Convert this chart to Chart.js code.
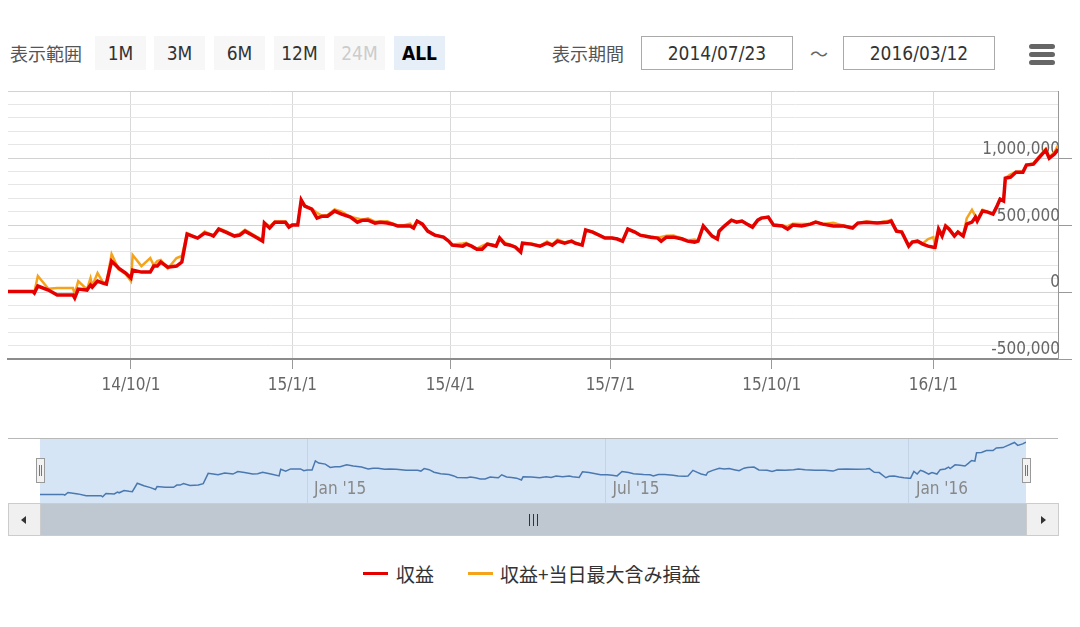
<!DOCTYPE html>
<html>
<head>
<meta charset="utf-8">
<script src="https://cdn.jsdelivr.net/npm/chart.js@4.4.0/dist/chart.umd.min.js"></script>
<style>
  body { margin: 0; background: #fff; width: 1080px; height: 627px; position: relative; overflow: hidden;
         font-family: 'DejaVu Sans', 'Noto Sans CJK JP', sans-serif; font-stretch: condensed; }
  .abs { position: absolute; }
  .jp { font-family: 'Noto Sans CJK JP', sans-serif; font-stretch: normal; }
  .lbl { top: 36px; height: 34px; line-height: 34px; font-size: 18px; color: #555; }
  .btn { top: 36px; width: 51px; height: 34px; line-height: 34px; text-align: center; background: #f7f7f7;
         font-size: 19px; color: #333; }
  .btn.off { color: #ccc; }
  .btn.on { background: #e6eef8; color: #000; font-weight: bold; }
  .box { top: 36px; width: 150px; height: 32px; line-height: 32px; border: 1px solid #aaa; text-align: center;
         font-size: 19px; color: #333; }
  .bar { left: 1029px; width: 26px; height: 5px; border-radius: 3px; background: #666; }
  .handle { top: 458px; width: 7px; height: 23px; background: #f2f2f2; border: 1px solid #999; }
  .handle i { position: absolute; top: 6px; width: 1px; height: 11px; background: #777; }
  .sbtn { top: 503px; width: 31px; height: 31px; background: #f0f0f0; border: 1px solid #ccc; }
  .leg-line { top: 572px; width: 25px; height: 3px; }
  .leg-text { top: 561px; font-size: 19px; line-height: 26px; color: #333; }
</style>
</head>
<body>

<div class="abs lbl jp" style="left:10px">表示範囲</div>
<div class="abs btn" style="left:95px">1M</div>
<div class="abs btn" style="left:154px">3M</div>
<div class="abs btn" style="left:214px">6M</div>
<div class="abs btn" style="left:274px">12M</div>
<div class="abs btn off" style="left:334px">24M</div>
<div class="abs btn on" style="left:394px">ALL</div>

<div class="abs lbl jp" style="left:552px">表示期間</div>
<div class="abs box" style="left:641px" id="fromBox"></div>
<div class="abs lbl jp" style="left:810px;color:#666">～</div>
<div class="abs box" style="left:843px" id="toBox"></div>
<div class="abs bar" style="top:44px"></div>
<div class="abs bar" style="top:52px"></div>
<div class="abs bar" style="top:60px"></div>

<canvas id="mainChart" class="abs" style="left:0;top:79px" width="1080" height="321"></canvas>

<div class="abs" style="left:8px;top:438px;width:1050px;height:1px;background:#b8b8b8"></div>
<canvas id="navChart" class="abs" style="left:0;top:439px" width="1080" height="64"></canvas>
<div class="abs handle" style="left:36px"><i style="left:2px"></i><i style="left:4px"></i></div>
<div class="abs handle" style="left:1022px"><i style="left:2px"></i><i style="left:4px"></i></div>

<div class="abs" style="left:8px;top:503px;width:1049px;height:31px;background:#bfc8d1;border:1px solid #ccc"></div>
<div class="abs sbtn" style="left:8px">
  <div class="abs" style="left:12px;top:12px;width:0;height:0;border-top:4px solid transparent;border-bottom:4px solid transparent;border-right:5px solid #333"></div>
</div>
<div class="abs sbtn" style="left:1026px">
  <div class="abs" style="left:14px;top:12px;width:0;height:0;border-top:4px solid transparent;border-bottom:4px solid transparent;border-left:5px solid #333"></div>
</div>
<div class="abs" style="left:529px;top:514px;width:1px;height:12px;background:#333"></div>
<div class="abs" style="left:533px;top:514px;width:1px;height:12px;background:#333"></div>
<div class="abs" style="left:537px;top:514px;width:1px;height:12px;background:#333"></div>

<div id="legend"></div>

<script>
/* データ ------------------------------------------------------------------- */
const startDate = '2014-07-23';
const endDate = '2016-03-12';

const seriesNames = ['収益', '収益+当日最大含み損益'];
const seriesColors = ['#e50000', '#f5a31a'];

// 開始日からの経過日数
const dayIndex = [
  0, 14, 15, 17, 23, 28, 37, 38, 40, 45,
  47, 48, 51, 54, 56, 59, 63, 67, 70, 71,
  76, 81, 83, 85, 87, 91, 96, 99, 102, 105,
  108, 112, 116, 117, 120, 124, 129, 132, 135, 140,
  145, 146, 149, 152, 158, 160, 162, 165, 167, 169,
  173, 176, 179, 182, 186, 190, 195, 199, 202, 205,
  209, 212, 216, 219, 222, 225, 229, 231, 233, 236,
  239, 243, 248, 251, 253, 259, 261, 264, 267, 270,
  273, 276, 278, 280, 283, 286, 289, 292, 293, 298,
  303, 307, 310, 313, 317, 321, 323, 327, 329, 333,
  340, 344, 347, 350, 353, 357, 360, 366, 370, 372,
  375, 379, 384, 387, 391, 393, 396, 399, 401, 404,
  405, 408, 412, 415, 418, 421, 424, 427, 429, 433,
  436, 441, 444, 447, 452, 457, 460, 464, 470, 476,
  481, 484, 489, 495, 501, 503, 506, 509, 513, 515,
  518, 521, 524, 527, 528, 530, 532, 534, 536, 539,
  541, 544, 546, 549, 551, 552, 555, 558, 561, 563,
  565, 567, 568, 571, 574, 578, 580, 584, 586, 591,
  593, 596, 598
];

// 収益
const profit = [
  5000, 5000, -8000, 45000, 15000, -22000, -22000, -45000, 22000, 15000,
  52000, 37000, 82000, 67000, 60000, 231000, 179000, 142000, 104000, 164000,
  149000, 149000, 194000, 194000, 224000, 186000, 194000, 224000, 433000, 418000,
  403000, 440000, 425000, 418000, 470000, 448000, 418000, 425000, 455000, 418000,
  380000, 515000, 478000, 522000, 522000, 485000, 500000, 500000, 687000, 642000,
  620000, 552000, 567000, 567000, 605000, 582000, 560000, 522000, 537000, 537000,
  515000, 522000, 515000, 507000, 493000, 493000, 493000, 478000, 530000, 507000,
  455000, 425000, 410000, 380000, 350000, 343000, 358000, 343000, 320000, 320000,
  358000, 350000, 343000, 403000, 358000, 350000, 335000, 298000, 365000, 358000,
  343000, 365000, 350000, 380000, 365000, 380000, 365000, 350000, 463000, 448000,
  403000, 403000, 396000, 380000, 470000, 448000, 425000, 410000, 403000, 380000,
  410000, 410000, 396000, 380000, 373000, 380000, 493000, 448000, 418000, 396000,
  455000, 493000, 537000, 522000, 530000, 507000, 485000, 537000, 552000, 560000,
  500000, 493000, 470000, 500000, 493000, 507000, 522000, 507000, 493000, 493000,
  478000, 515000, 522000, 515000, 522000, 530000, 455000, 448000, 343000, 373000,
  380000, 358000, 343000, 335000, 335000, 470000, 418000, 493000, 470000, 418000,
  448000, 418000, 507000, 522000, 560000, 530000, 605000, 597000, 582000, 634000,
  694000, 680000, 850000, 858000, 895000, 895000, 948000, 955000, 985000, 1060000,
  1000000, 1030000, 1067000
];

// 収益+当日最大含み損益
const profitMax = [
  5000, 5000, 0, 120000, 25000, 30000, 30000, -15000, 82000, 20000,
  104000, 45000, 142000, 75000, 65000, 284000, 170000, 135000, 82000, 276000,
  194000, 254000, 200000, 231000, 240000, 175000, 254000, 269000, 440000, 422000,
  405000, 452000, 428000, 420000, 476000, 455000, 422000, 435000, 466000, 425000,
  390000, 518000, 490000, 527000, 527000, 495000, 505000, 503000, 687000, 648000,
  622000, 592000, 570000, 575000, 618000, 600000, 562000, 550000, 540000, 550000,
  525000, 527000, 528000, 512000, 497000, 497000, 510000, 482000, 532000, 508000,
  458000, 428000, 412000, 382000, 355000, 362000, 368000, 346000, 325000, 345000,
  362000, 354000, 346000, 404000, 368000, 354000, 340000, 302000, 367000, 362000,
  346000, 378000, 355000, 392000, 370000, 382000, 370000, 352000, 464000, 450000,
  406000, 406000, 398000, 382000, 472000, 450000, 427000, 415000, 405000, 412000,
  420000, 422000, 400000, 384000, 392000, 382000, 494000, 450000, 420000, 398000,
  457000, 495000, 538000, 526000, 532000, 509000, 490000, 538000, 553000, 561000,
  502000, 497000, 492000, 510000, 508000, 510000, 524000, 509000, 518000, 496000,
  482000, 517000, 526000, 518000, 530000, 540000, 458000, 452000, 345000, 376000,
  382000, 362000, 395000, 410000, 345000, 472000, 422000, 496000, 475000, 422000,
  452000, 422000, 550000, 615000, 565000, 540000, 615000, 600000, 586000, 638000,
  697000, 686000, 853000, 880000, 898000, 900000, 952000, 960000, 995000, 1070000,
  1005000, 1045000, 1095000
];

const xTickDates = ['2014-10-01', '2015-01-01', '2015-04-01', '2015-07-01', '2015-10-01', '2016-01-01'];
const xTickLabels = ['14/10/1', '15/1/1', '15/4/1', '15/7/1', '15/10/1', '16/1/1'];
const navTickDates = ['2015-01-01', '2015-07-01', '2016-01-01'];
const navTickLabels = ["Jan '15", "Jul '15", "Jan '16"];

const yMin = -500000;
const yMax = 1500000;
const yMinorStep = 100000;
const yMajorStep = 500000;

/* ヘルパー ------------------------------------------------------------------ */
function dayOf(dateStr) {
  const [y, m, d] = dateStr.split('-').map(Number);
  const [sy, sm, sd] = startDate.split('-').map(Number);
  return (Date.UTC(y, m - 1, d) - Date.UTC(sy, sm - 1, sd)) / 86400000;
}
const toPoints = (vals) => dayIndex.map((d, i) => ({ x: d, y: vals[i] }));
const isMajor = (v) => Math.abs(v % yMajorStep) < 1;
const tickFont = { family: "'DejaVu Sans Condensed', 'DejaVu Sans', sans-serif", size: 17 };

document.getElementById('fromBox').textContent = startDate.replace(/-/g, '/');
document.getElementById('toBox').textContent = endDate.replace(/-/g, '/');

/* メインチャート ------------------------------------------------------------ */
// Chart.js は先頭のデータセットを最前面に描く → 収益を先頭に
new Chart(document.getElementById('mainChart'), {
  type: 'line',
  data: {
    datasets: [
      { label: seriesNames[0], data: toPoints(profit), borderColor: seriesColors[0], borderWidth: 3.5,
        pointRadius: 0, tension: 0 },
      { label: seriesNames[1], data: toPoints(profitMax), borderColor: seriesColors[1], borderWidth: 2.5,
        pointRadius: 0, tension: 0 },
    ],
  },
  options: {
    responsive: false,
    animation: false,
    layout: { padding: { left: 8, top: 0, right: 0, bottom: 0 } },
    plugins: { legend: { display: false }, tooltip: { enabled: false } },
    scales: {
      x: {
        type: 'linear',
        min: 0,
        max: dayOf(endDate),
        afterBuildTicks: (s) => { s.ticks = xTickDates.map((d) => ({ value: dayOf(d) })); },
        afterFit: (s) => { s.height = 41; },
        ticks: { callback: (v, i) => xTickLabels[i], color: '#666', font: tickFont, padding: 6,
                 maxRotation: 0, autoSkip: false },
        grid: { color: '#d9d9d9', tickColor: '#999', tickLength: 10 },
        border: { color: '#8c8c8c', width: 2 },
      },
      y: {
        position: 'right',
        min: yMin,
        max: yMax,
        afterBuildTicks: (s) => {
          const t = [];
          for (let v = yMin; v <= yMax; v += yMinorStep) t.push({ value: v });
          s.ticks = t;
        },
        afterFit: (s) => { s.width = 22; },
        ticks: {
          mirror: true,
          autoSkip: false,
          padding: 2,
          labelOffset: -9,
          color: '#666',
          font: tickFont,
          callback: (v) => (isMajor(v) && v < yMax ? v.toLocaleString('en-US') : ''),
        },
        grid: {
          color: (c) => (c.tick && isMajor(c.tick.value) ? '#d2d2d2' : '#e6e6e6'),
          tickColor: (c) => (c.tick && isMajor(c.tick.value) && c.tick.value < yMax ? '#999' : 'rgba(0,0,0,0)'),
          tickLength: 14,
        },
        border: { color: '#999', width: 1 },
      },
    },
  },
});

/* ナビゲーター -------------------------------------------------------------- */
const navBg = {
  id: 'navBg',
  beforeDraw(chart) {
    const { ctx, chartArea: a } = chart;
    ctx.save();
    ctx.fillStyle = '#d5e5f5';
    ctx.fillRect(a.left, a.top, a.width, a.height);
    ctx.restore();
  },
};

new Chart(document.getElementById('navChart'), {
  type: 'line',
  data: {
    datasets: [
      { data: toPoints(profit), borderColor: '#4a78b0', borderWidth: 1.5, pointRadius: 0, tension: 0 },
    ],
  },
  options: {
    responsive: false,
    animation: false,
    layout: { padding: { left: 40, right: 54, top: 0, bottom: 0 } },
    plugins: { legend: { display: false }, tooltip: { enabled: false } },
    scales: {
      x: {
        type: 'linear',
        min: 0,
        max: dayOf(endDate),
        afterBuildTicks: (s) => { s.ticks = navTickDates.map((d) => ({ value: dayOf(d) })); },
        afterFit: (s) => { s.height = 0; },
        ticks: { callback: (v, i) => navTickLabels[i], color: '#888', font: tickFont, align: 'start',
                 mirror: true, padding: 3, labelOffset: 7, maxRotation: 0, autoSkip: false },
        grid: { color: '#c3d4e6', drawTicks: false },
        border: { display: false },
      },
      y: { display: false, min: -170000, max: 1130000 },
    },
  },
  plugins: [navBg],
});

/* 凡例 ---------------------------------------------------------------------- */
const legendPos = [{ line: 363, text: 396 }, { line: 468, text: 500 }];
document.getElementById('legend').innerHTML = seriesNames.map((name, i) =>
  `<div class="abs leg-line" style="left:${legendPos[i].line}px;background:${seriesColors[i]}"></div>` +
  `<div class="abs leg-text jp" style="left:${legendPos[i].text}px">${name}</div>`
).join('');
</script>
</body>
</html>
